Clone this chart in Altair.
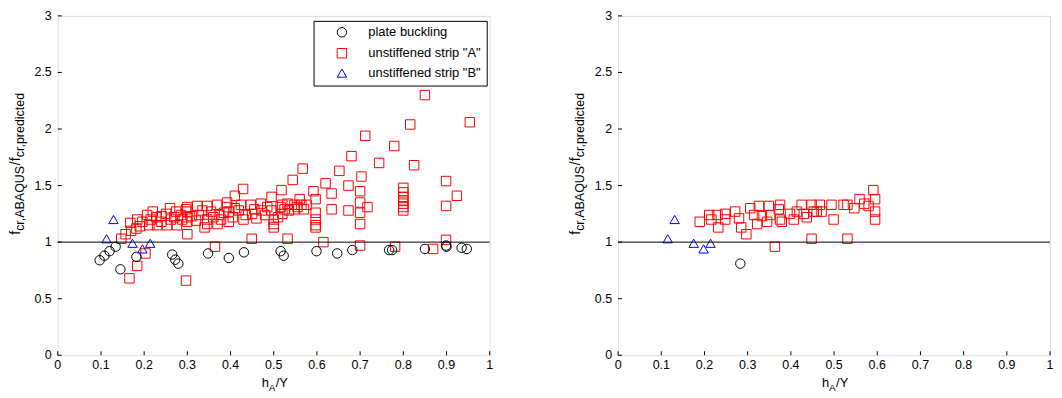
import altair as alt
import pandas as pd

FONT = "Liberation Sans"
W, H = 434, 341

TYPES = ["plate buckling", 'unstiffened strip "A"', 'unstiffened strip "B"']
COLORS = ["black", "#ff0000", "#0000ff"]
SHAPES = ["circle", "square", "triangle-up"]

x_ticks = [0, 0.1, 0.2, 0.3, 0.4, 0.5, 0.6, 0.7, 0.8, 0.9, 1]
x_labels = ["0", "0.1", "0.2", "0.3", "0.4", "0.5", "0.6", "0.7", "0.8", "0.9", "1"]
y_ticks = [0, 0.5, 1, 1.5, 2, 2.5, 3]
y_labels = ["0", "0.5", "1", "1.5", "2", "2.5", "3"]
ref_line = [1.0]

# ---------------- left panel data ----------------
plate_L_x = [0.097, 0.108, 0.120, 0.134, 0.145, 0.182, 0.265, 0.272, 0.279, 0.348, 0.396, 0.431,
             0.516, 0.523, 0.599, 0.647, 0.682, 0.767, 0.774, 0.850, 0.899, 0.900, 0.935, 0.947]
plate_L_y = [0.84, 0.88, 0.92, 0.96, 0.76, 0.87, 0.89, 0.845, 0.81, 0.90, 0.86, 0.91,
             0.92, 0.88, 0.92, 0.90, 0.93, 0.93, 0.93, 0.94, 0.97, 0.96, 0.95, 0.94]

stripA_L_x = [0.147, 0.157, 0.166, 0.184, 0.203, 0.297, 0.364, 0.449, 0.532, 0.615, 0.700, 0.781, 0.869, 0.899,
              0.168, 0.170, 0.182, 0.184, 0.190, 0.196, 0.207, 0.212, 0.215, 0.220, 0.228, 0.230, 0.240, 0.240,
              0.251, 0.253, 0.260, 0.262, 0.270, 0.274, 0.276, 0.285, 0.288, 0.297, 0.300, 0.300, 0.300, 0.300,
              0.300, 0.310, 0.320, 0.323, 0.327, 0.335, 0.340, 0.346, 0.346, 0.346, 0.355, 0.360, 0.369, 0.370,
              0.373, 0.378, 0.385, 0.392, 0.392, 0.396, 0.396, 0.405, 0.410, 0.410, 0.419, 0.424, 0.429, 0.430,
              0.435, 0.447, 0.450, 0.455, 0.460, 0.470, 0.472, 0.480, 0.485, 0.495, 0.495, 0.500, 0.500, 0.500,
              0.510, 0.516, 0.518, 0.520, 0.520, 0.525, 0.532, 0.535, 0.544, 0.548, 0.548, 0.555, 0.560, 0.564,
              0.567, 0.570, 0.576, 0.592, 0.597, 0.597, 0.597, 0.597, 0.597, 0.620, 0.634, 0.634, 0.652, 0.673,
              0.673, 0.680, 0.700, 0.700, 0.700, 0.700, 0.703, 0.712, 0.717, 0.744, 0.779, 0.800, 0.800, 0.800,
              0.800, 0.800, 0.800, 0.800, 0.816, 0.825, 0.850, 0.899, 0.899, 0.924, 0.954]
stripA_L_y = [1.03, 1.07, 0.68, 0.79, 0.90, 0.66, 0.96, 1.03, 1.03, 1.00, 0.97, 0.96, 0.94, 1.02,
              1.17, 1.10, 1.12, 1.20, 1.14, 1.18, 1.24, 1.15, 1.20, 1.27, 1.22, 1.15, 1.18, 1.23,
              1.25, 1.15, 1.30, 1.20, 1.22, 1.27, 1.15, 1.24, 1.20, 1.29, 1.07, 1.31, 1.27, 1.22,
              1.18, 1.23, 1.19, 1.32, 1.24, 1.28, 1.13, 1.32, 1.20, 1.16, 1.27, 1.22, 1.33, 1.16,
              1.24, 1.20, 1.26, 1.31, 1.35, 1.27, 1.18, 1.22, 1.30, 1.41, 1.28, 1.33, 1.47, 1.20,
              1.24, 1.33, 1.25, 1.29, 1.21, 1.34, 1.28, 1.24, 1.31, 1.28, 1.40, 1.20, 1.16, 1.13,
              1.22, 1.31, 1.46, 1.25, 1.33, 1.29, 1.34, 1.28, 1.55, 1.33, 1.29, 1.31, 1.38, 1.33,
              1.65, 1.29, 1.33, 1.45, 1.38, 1.26, 1.20, 1.15, 1.13, 1.52, 1.43, 1.29, 1.63, 1.50,
              1.28, 1.76, 1.45, 1.35, 1.26, 1.16, 1.58, 1.94, 1.31, 1.70, 1.85, 1.48, 1.44, 1.40,
              1.37, 1.34, 1.31, 1.28, 2.04, 1.68, 2.30, 1.54, 1.32, 1.41, 2.06]

stripB_L_x = [0.113, 0.129, 0.173, 0.196, 0.214]
stripB_L_y = [1.03, 1.20, 0.99, 0.94, 0.99]

# ---------------- right panel data ----------------
plate_R_x = [0.283]
plate_R_y = [0.81]

stripA_R_x = [0.189, 0.211, 0.216, 0.230, 0.232, 0.248, 0.248, 0.271, 0.280, 0.285, 0.297, 0.306, 0.315,
              0.322, 0.326, 0.333, 0.345, 0.349, 0.352, 0.363, 0.372, 0.375, 0.375, 0.379, 0.398, 0.407,
              0.414, 0.425, 0.430, 0.437, 0.448, 0.448, 0.453, 0.460, 0.467, 0.471, 0.494, 0.499, 0.522,
              0.531, 0.531, 0.547, 0.559, 0.570, 0.580, 0.591, 0.595, 0.595, 0.595]
stripA_R_y = [1.18, 1.24, 1.20, 1.24, 1.13, 1.25, 1.20, 1.27, 1.21, 1.13, 1.07, 1.30, 1.24,
              1.16, 1.32, 1.23, 1.18, 1.32, 1.24, 0.96, 1.29, 1.33, 1.20, 1.18, 1.25, 1.20,
              1.27, 1.33, 1.25, 1.22, 1.33, 1.03, 1.27, 1.27, 1.33, 1.27, 1.33, 1.20, 1.33,
              1.33, 1.03, 1.30, 1.38, 1.34, 1.32, 1.46, 1.38, 1.27, 1.20]

stripB_R_x = [0.115, 0.131, 0.175, 0.198, 0.214]
stripB_R_y = [1.03, 1.20, 0.99, 0.94, 0.99]


def make_df(px, py, ax, ay, bx, by):
    rows = []
    for xs, ys, t in ((ax, ay, TYPES[1]), (px, py, TYPES[0]), (bx, by, TYPES[2])):
        for a, b in zip(xs, ys):
            rows.append({"x": a, "y": b, "type": t})
    return pd.DataFrame(rows)


xscale = alt.Scale(domain=[0, 1], nice=False, zero=False)
yscale = alt.Scale(domain=[0, 3], nice=False, zero=False)

legend = alt.Legend(
    title=None, orient="none", legendX=257, legendY=5,
    strokeColor="black", fillColor="white", padding=5,
    symbolOffset=17, labelOffset=20, rowPadding=6,
    labelFont=FONT, labelFontSize=13, labelColor="black", labelLimit=400,
    symbolSize=90, symbolStrokeWidth=1,
)


def text_piece(txt, x, y, size, angle=0):
    props = dict(align="left", baseline="alphabetic", fontSize=size, font=FONT, color="black")
    if angle:
        props["angle"] = angle
    return alt.Chart(pd.DataFrame({"t": [txt]})).mark_text(**props).encode(
        text="t:N", x=alt.value(x), y=alt.value(y)
    )


def panel(df):
    pts = alt.Chart(df).mark_point(filled=False, size=90, strokeWidth=1, opacity=1).encode(
        x=alt.X("x:Q", scale=xscale, title=None,
                axis=alt.Axis(labels=False, ticks=False, grid=False, domainColor="black")),
        y=alt.Y("y:Q", scale=yscale, title=None,
                axis=alt.Axis(labels=False, ticks=False, grid=False, domainColor="black")),
        color=alt.Color("type:N", scale=alt.Scale(domain=TYPES, range=COLORS), legend=legend),
        shape=alt.Shape("type:N", scale=alt.Scale(domain=TYPES, range=SHAPES), legend=legend),
    )
    rule = alt.Chart(pd.DataFrame({"v": ref_line})).mark_rule(color="black", strokeWidth=1).encode(
        y=alt.Y("v:Q", scale=yscale, axis=None))
    ydf = pd.DataFrame({"v": y_ticks, "lab": y_labels})
    xdf = pd.DataFrame({"v": x_ticks, "lab": x_labels})
    yt = alt.Chart(ydf).mark_rule(color="black", strokeWidth=1).encode(
        y=alt.Y("v:Q", scale=yscale, axis=None), x=alt.value(0), x2=alt.value(4))
    xt = alt.Chart(xdf).mark_rule(color="black", strokeWidth=1).encode(
        x=alt.X("v:Q", scale=xscale, axis=None), y=alt.value(H - 4), y2=alt.value(H))
    ylab = alt.Chart(ydf).mark_text(align="right", baseline="middle", font=FONT, fontSize=12.5,
                                    color="black").encode(
        y=alt.Y("v:Q", scale=yscale, axis=None), x=alt.value(-6), text="lab:N")
    xlab = alt.Chart(xdf).mark_text(align="center", baseline="top", font=FONT, fontSize=12.5,
                                    color="black").encode(
        x=alt.X("v:Q", scale=xscale, axis=None), y=alt.value(H + 4), text="lab:N")
    # y-axis title  f_{cr,ABAQUS}/f_{cr,predicted}
    yb = -38
    ys = yb + 4
    y0 = 220
    ytitle = [
        text_piece("f", yb, y0, 14, 270),
        text_piece("cr,ABAQUS", ys, y0 - 4, 12.5, 270),
        text_piece("/f", yb, y0 - 4 - 66, 14, 270),
        text_piece("cr,predicted", ys, y0 - 4 - 66 - 8, 12.5, 270),
    ]
    # x-axis title  h_A/Y
    xb = 205
    xtitle = [
        text_piece("h", xb, H + 32, 13),
        text_piece("A", xb + 7, H + 36, 10),
        text_piece("/Y", xb + 14, H + 32, 13),
    ]
    return alt.layer(pts, rule, yt, xt, ylab, xlab, *ytitle, *xtitle).properties(width=W, height=H)


left = panel(make_df(plate_L_x, plate_L_y, stripA_L_x, stripA_L_y, stripB_L_x, stripB_L_y))
right = panel(make_df(plate_R_x, plate_R_y, stripA_R_x, stripA_R_y, stripB_R_x, stripB_R_y))

chart = alt.hconcat(left, right, spacing=75).properties(
    padding={"left": 0, "top": 0, "right": 0, "bottom": 0}
).configure_view(stroke=None).configure(background="white")

chart.save("out.html", embed_options={"renderer": "svg", "actions": False})
